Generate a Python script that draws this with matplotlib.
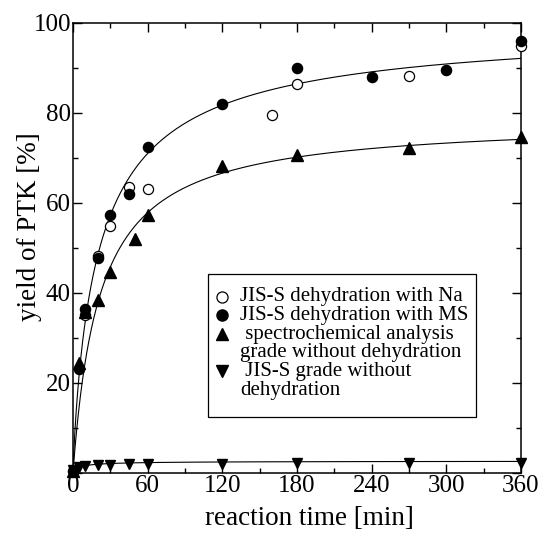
import numpy as np
import matplotlib
matplotlib.use("Agg")
import matplotlib.pyplot as plt
from matplotlib.patches import Rectangle

plt.rcParams['font.family'] = ['Liberation Serif', 'DejaVu Serif']

# ---- data ----
t_na = [10, 20, 30, 45, 60, 160, 180, 270, 360]
y_na = [35.0, 48.2, 54.9, 63.5, 63.0, 79.5, 86.4, 88.1, 94.8]

t_ms = [0, 5, 10, 20, 30, 45, 60, 120, 180, 240, 300, 360]
y_ms = [0.3, 23.0, 36.3, 47.8, 57.3, 62.0, 72.4, 82.0, 90.0, 88.0, 89.4, 96.0]

t_sp = [0, 5, 10, 20, 30, 50, 60, 120, 180, 270, 360]
y_sp = [0.3, 24.3, 35.6, 38.4, 44.6, 52.0, 57.2, 68.2, 70.7, 72.2, 74.6]

t_jis = [0, 5, 10, 20, 30, 45, 60, 120, 180, 270, 360]
y_jis = [0.5, 1.2, 1.4, 1.6, 1.7, 1.9, 1.9, 1.9, 2.1, 2.1, 2.1]

# fitted saturation curves y = a x^n / (b^n + x^n)
fit_circles = (100.0, 21.5, 0.87)
fit_sp = (78.5, 21.5, 1.0)
fit_jis = (2.6, 6.0, 0.80)

x_ticks = [0, 60, 120, 180, 240, 300, 360]
y_ticks = [0, 20, 40, 60, 80, 100]
y_ticklabels = ['', '20', '40', '60', '80', '100']

legend_labels = ["JIS-S dehydration with Na",
                 "JIS-S dehydration with MS",
                 " spectrochemical analysis\ngrade without dehydration",
                 " JIS-S grade without\ndehydration"]

xlabel = "reaction time [min]"
ylabel = "yield of PTK [%]"


def hill(x, p):
    a, b, n = p
    x = np.asarray(x, dtype=float)
    return a * x ** n / (b ** n + x ** n)


fig = plt.figure(figsize=(5.41, 5.34), dpi=100)
ax = fig.add_axes([0.1349, 0.1148, 0.8281, 0.8427])

xx = np.linspace(0, 360, 1500)
for p in (fit_circles, fit_sp, fit_jis):
    ax.plot(xx, hill(xx, p), color='black', lw=0.8, zorder=2)

ms = 7.3
ax.plot(t_na, y_na, 'o', mfc='white', mec='black', mew=0.9, ms=ms,
        clip_on=False, zorder=4)
ax.plot(t_ms, y_ms, 'o', mfc='black', mec='black', ms=ms,
        clip_on=False, zorder=4)
ax.plot(t_sp, y_sp, '^', mfc='black', mec='black', ms=8.3,
        clip_on=False, zorder=4)
ax.plot(t_jis, y_jis, 'v', mfc='black', mec='black', ms=7.8,
        clip_on=False, zorder=4)

ax.set_xlim(0, 360)
ax.set_ylim(0, 100)
ax.set_xticks(x_ticks)
ax.set_xticks(np.arange(30, 360, 60), minor=True)
ax.set_yticks(y_ticks)
ax.set_yticklabels(y_ticklabels)
ax.set_yticks(np.arange(10, 100, 20), minor=True)
ax.tick_params(which='both', direction='in', top=True, right=True,
               labelsize=18, width=1.0, pad=1.5)
ax.tick_params(which='major', length=6.5)
ax.tick_params(which='minor', length=3.4)
for s in ax.spines.values():
    s.set_linewidth(1.1)

ax.set_xlabel(xlabel, fontsize=19.5)
ax.set_ylabel(ylabel, fontsize=19.5)
ax.xaxis.set_label_coords(0.527, -0.073)
ax.yaxis.set_label_coords(-0.069, 0.547)

# ---- legend drawn manually (marker aligned with the first label line) ----
box = Rectangle((0.3013, 0.1238), 0.8996 - 0.3013, 0.4416 - 0.1238,
                transform=ax.transAxes, fill=True, facecolor='white',
                edgecolor='black', lw=0.9, zorder=5)
ax.add_patch(box)
row_h = 0.0415
y0 = 0.3911
mx = 0.3326
tx = 0.3728
styles = [dict(marker='o', mfc='white', mec='black', mew=0.9, ms=8.0),
          dict(marker='o', mfc='black', mec='black', ms=8.0),
          dict(marker='^', mfc='black', mec='black', ms=8.6),
          dict(marker='v', mfc='black', mec='black', ms=8.6)]
row = 0
for lab, st in zip(legend_labels, styles):
    lines = lab.split("\n")
    yy = y0 - row * row_h
    ax.plot([mx], [yy], transform=ax.transAxes, ls='none', zorder=6,
            clip_on=False, **st)
    for ln in lines:
        yy = y0 - row * row_h
        ax.text(tx, yy, ln, transform=ax.transAxes, fontsize=15,
                ha='left', va='center', zorder=6)
        row += 1

fig.savefig("out.png", dpi=100)
